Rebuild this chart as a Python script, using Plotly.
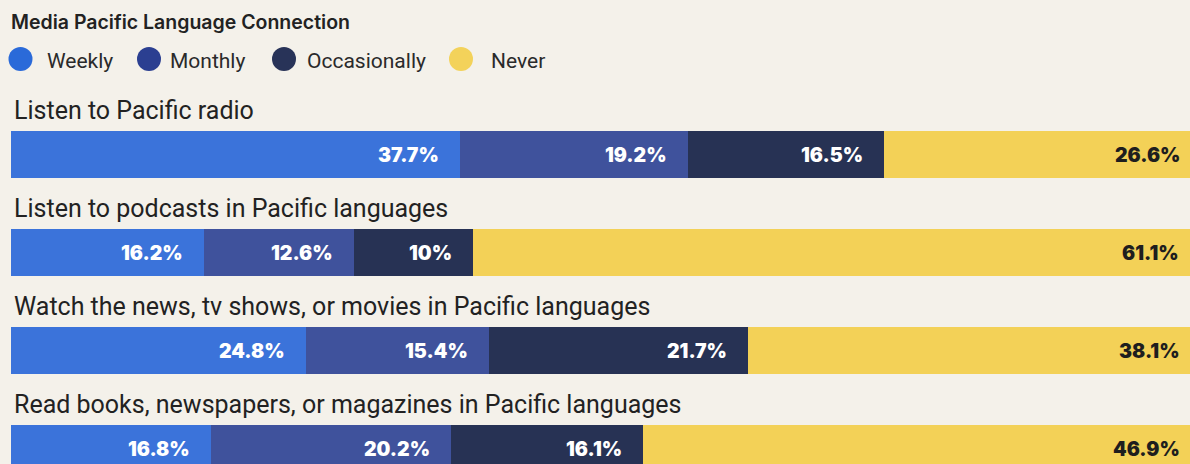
import plotly.graph_objects as go

# Survey data: share of respondents by frequency, per media activity
activities = [
    "Listen to Pacific radio",
    "Listen to podcasts in Pacific languages",
    "Watch the news, tv shows, or movies in Pacific languages",
    "Read books, newspapers, or magazines in Pacific languages",
]
frequencies = ["Weekly", "Monthly", "Occasionally", "Never"]
weekly = [37.7, 16.2, 24.8, 16.8]
monthly = [19.2, 12.6, 15.4, 20.2]
occasionally = [16.5, 10, 21.7, 16.1]
never = [26.6, 61.1, 38.1, 46.9]

title_text = "Media Pacific Language Connection"

bar_colors = ["#3b73da", "#3f529c", "#273254", "#f3d157"]
legend_colors = ["#2a6ad9", "#2b3f91", "#283358", "#f3d25a"]
label_colors = ["#ffffff", "#ffffff", "#ffffff", "#1e1e1e"]
bg = "#f4f1ea"

W, H = 1190, 464
series = [weekly, monthly, occasionally, never]
rows = list(range(len(activities)))

# axis ranges chosen so 0 % sits 11 px from the left edge (100 % at 1201 px)
x0 = -11 * 100 / 1190
x1 = x0 + 100
top = -154.5 / 98
bottom = top + H / 98

fig = go.Figure()
for name, vals, col in zip(frequencies, series, bar_colors):
    fig.add_trace(go.Bar(
        y=rows, x=vals, name=name, orientation="h",
        marker=dict(color=col, line=dict(width=0)),
        width=0.47, showlegend=False, hoverinfo="skip",
    ))


def to_paper(v):
    return (v - x0) / (x1 - x0)


# value labels at the inner right end of each segment
annotations = []
for i in rows:
    cum = 0.0
    for vals, tc in zip(series, label_colors):
        cum += vals[i]
        annotations.append(dict(
            x=to_paper(cum), y=i, xref="paper", yref="y", text=f"{vals[i]:g}%",
            showarrow=False, xanchor="right", yanchor="middle", xshift=-19,
            font=dict(family="Inter", size=19.5, color=tc, weight=900),
        ))
    # activity caption above the bar
    annotations.append(dict(
        x=0, y=i, xref="paper", yref="y", text=activities[i],
        showarrow=False, xanchor="left", yanchor="middle",
        xshift=12, yshift=44,
        font=dict(family="Roboto", size=25, color="#222222"),
    ))

annotations.append(dict(
    x=9 / W, y=1 - 22 / H, xref="paper", yref="paper", text=title_text,
    showarrow=False, xanchor="left", yanchor="middle",
    font=dict(family="Inter", size=19.5, color="#222222", weight=600),
))

# custom legend: filled circles with labels
shapes = []
legend_centers = [20.5, 149, 284, 461]
legend_text_x = [45, 168, 305, 489]
r = 12
for name, col, cx, tx in zip(frequencies, legend_colors, legend_centers, legend_text_x):
    cy = 59
    shapes.append(dict(
        type="circle", xref="paper", yref="paper",
        x0=(cx - r) / W, x1=(cx + r) / W,
        y0=1 - (cy + r) / H, y1=1 - (cy - r) / H,
        fillcolor=col, line=dict(width=0), layer="above",
    ))
    annotations.append(dict(
        x=tx / W, y=1 - 61 / H, xref="paper", yref="paper",
        text=name, showarrow=False, xanchor="left", yanchor="middle",
        font=dict(family="Roboto", size=21, color="#2a2a2a"),
    ))

fig.update_layout(
    width=W, height=H,
    margin=dict(l=0, r=0, t=0, b=0),
    paper_bgcolor=bg, plot_bgcolor=bg,
    barmode="stack", bargap=0,
    xaxis=dict(range=[x0, x1], visible=False, fixedrange=True),
    yaxis=dict(range=[bottom, top], visible=False, fixedrange=True),
    annotations=annotations, shapes=shapes,
    showlegend=False,
)

fig.write_html("out.html")
